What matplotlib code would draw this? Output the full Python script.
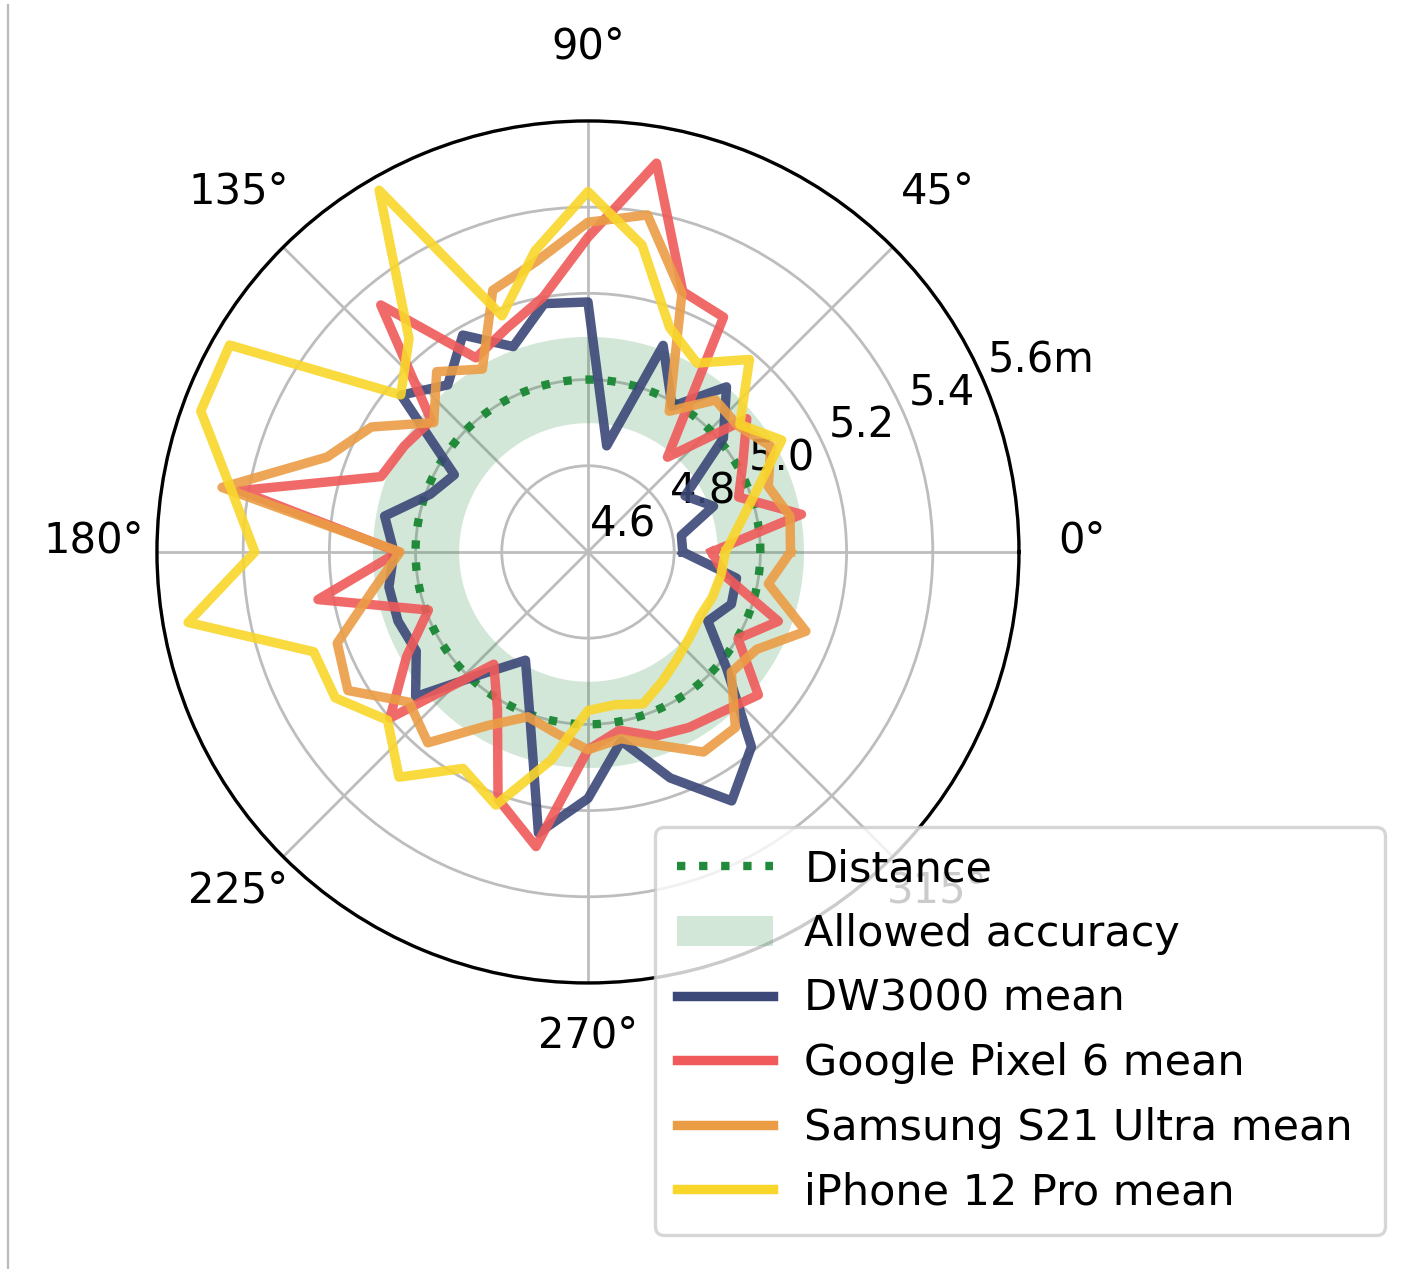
import numpy as np
import matplotlib
matplotlib.use("Agg")
import matplotlib.pyplot as plt
from matplotlib.lines import Line2D
from matplotlib.patches import Patch
from matplotlib.transforms import offset_copy

# Measurement angles (degrees) and mean measured distance (m) per device
angles_deg = list(range(0, 360, 10))

dw3000 = [4.82, 4.82, 4.91, 4.86, 5.01, 5.10, 4.99, 5.11, 4.85, 5.18,
          5.185, 5.107, 5.181, 5.106, 5.166, 4.958, 4.99, 5.079, 5.05, 5.069,
          5.069, 5.06, 5.122, 4.965, 4.89, 4.996, 5.262, 5.172, 5.045, 5.158,
          5.267, 5.19, 5.02, 4.921, 4.954, 4.95]

pixel6 = [4.887, 5.103, 4.972, 5.015, 5.081, 4.887, 5.229, 5.243, 5.516, 5.33,
          5.20, 5.152, 5.12, 5.348, 5.075, 5.092, 5.111, 5.42, 5.04, 5.236,
          4.994, 5.086, 5.20, 4.94, 5.02, 5.21, 5.294, 5.059, 5.02, 5.055,
          5.07, 5.084, 5.116, 5.002, 5.07, 4.924]

s21_ultra = [5.07, 5.076, 5.045, 5.09, 5.055, 5.06, 4.977, 5.237, 5.394, 5.365,
             5.285, 5.246, 5.09, 5.146, 5.067, 5.18, 5.244, 5.462, 5.036, 5.106,
             5.219, 5.243, 5.142, 5.178, 5.065, 5.007, 5.027, 5.059, 5.04, 5.077,
             5.136, 5.132, 5.034, 5.052, 5.138, 5.025]

iphone12 = [4.919, 4.956, 5.016, 5.119, 5.06, 5.183, 5.106, 5.154, 5.323, 5.436,
            5.309, 5.183, 5.569, 5.246, 5.167, 5.56, 5.556, 5.441, 5.373, 5.542,
            5.277, 5.277, 5.207, 5.282, 5.18, 5.225, 5.09, 4.968, 4.96, 4.975,
            4.946, 4.923, 4.908, 4.90, 4.907, 4.913]

true_distance = 5.0
tolerance = 0.1

series_labels = ["DW3000 mean", "Google Pixel 6 mean",
                 "Samsung S21 Ultra mean", "iPhone 12 Pro mean"]
series_colors = ["#3b4878", "#f05a5a", "#eb9d45", "#f9d62a"]

r_ticks = [4.6, 4.8, 5.0, 5.2, 5.4, 5.6]
r_tick_labels = ["4.6", "4.8", "5.0", "5.2", "5.4", "5.6m"]
theta_ticks = list(range(0, 360, 45))
theta_tick_labels = [f"{a}°" for a in theta_ticks]

plt.rcParams["font.family"] = ["DejaVu Sans"]
FS = 15
LEG_FS = 15.5
R_MIN, R_MAX = 4.6, 5.6

fig = plt.figure(figsize=(1419 / 200, 1269 / 200), dpi=200)
ax = fig.add_axes([0.1106, 0.2254, 0.6075, 0.6793], projection="polar")

green = "#228b3b"
theta_full = np.linspace(0, 2 * np.pi, 721)
ax.fill_between(theta_full, true_distance - tolerance, true_distance + tolerance,
                color=green, alpha=0.2, lw=0, zorder=1)
ax.plot(theta_full, np.full_like(theta_full, true_distance), color=green,
        ls=":", lw=3, zorder=3)

theta = np.deg2rad(angles_deg + [angles_deg[0]])
for vals, col in zip([dw3000, pixel6, s21_ultra, iphone12], series_colors):
    ax.plot(theta, list(vals) + [vals[0]], color=col, lw=3.4, alpha=0.9, zorder=4)

ax.set_ylim(R_MIN, R_MAX)
ax.set_yticks(r_ticks)
ax.set_yticklabels([])
ax.set_xticks(np.deg2rad(theta_ticks))
ax.set_xticklabels([])
ax.grid(True, color="#bdbdbd", lw=1.0, zorder=2)
ax.spines["polar"].set_color("black")
ax.spines["polar"].set_linewidth(1.2)
ax.set_axisbelow(True)

# angular labels just outside the rim
theta_tf = offset_copy(ax.transAxes, fig=fig, x=0, y=11, units="dots")
for a, lab in zip(theta_ticks, theta_tick_labels):
    t = np.deg2rad(a)
    f = 1.1465
    ax.text(0.5 + 0.5 * f * np.cos(t), 0.5 + 0.5 * f * np.sin(t), lab,
            transform=theta_tf, ha="center", va="center", fontsize=FS,
            clip_on=False, zorder=3.5)

# radial labels along the 22.5° ray
r_tf = offset_copy(ax.transAxes, fig=fig, x=2, y=15, units="dots")
ang = np.deg2rad(22.5)
for r, lab in zip(r_ticks, r_tick_labels):
    f = (r - R_MIN) / (R_MAX - R_MIN)
    ax.text(0.5 + 0.5 * f * np.cos(ang), 0.5 + 0.5 * f * np.sin(ang), lab,
            transform=r_tf, ha="left", va="baseline", fontsize=FS,
            clip_on=False, zorder=3.5)

handles = [Line2D([], [], color=green, ls=":", lw=3),
           Patch(facecolor=green, alpha=0.2, lw=0)]
handles += [Line2D([], [], color=c, lw=3.4) for c in series_colors]
labels = ["Distance", "Allowed accuracy"] + series_labels
leg = ax.legend(handles, labels, loc="lower left",
                bbox_to_anchor=(655 / 1419, 34 / 1269, 730 / 1419, 0.1),
                bbox_transform=fig.transFigure, mode="expand", borderaxespad=0,
                fontsize=LEG_FS, framealpha=0.8, edgecolor="#cccccc", fancybox=True,
                handlelength=2.25, handletextpad=0.72, labelspacing=0.525,
                borderpad=0.5)
leg.get_frame().set_linewidth(1.2)
leg.set_zorder(10)

fig.add_artist(Line2D([0.0058, 0.0058], [0.0, 0.996], transform=fig.transFigure,
                      color="#bbbbbb", lw=0.8))

fig.savefig("out.png", dpi=200, facecolor="white")
